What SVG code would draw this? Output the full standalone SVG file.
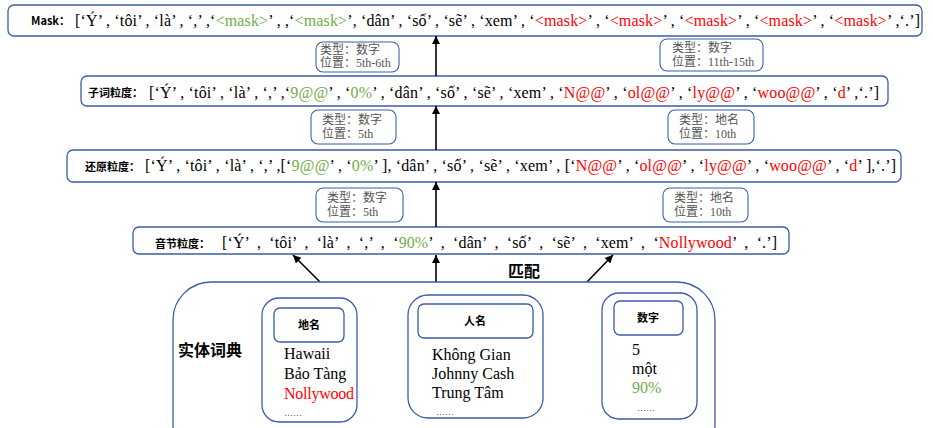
<svg xmlns="http://www.w3.org/2000/svg" width="933" height="428" viewBox="0 0 933 428">
<defs>
<style>
.box{fill:#fff;stroke:#3b5ea6;stroke-width:1.3}
.lbl{fill:#fff;stroke:#3b5ea6;stroke-width:1.1}
.list{font-family:"Liberation Serif","Noto Sans CJK SC",serif;font-size:16px;fill:#000}
.head{font-family:"Noto Sans CJK SC",sans-serif;font-weight:bold;font-size:11px;fill:#000}
.note{font-family:"Liberation Serif","Noto Sans CJK SC",serif;font-size:12px;fill:#555}
.item{font-family:"Liberation Serif",serif;font-size:16px;fill:#000}
.dots{font-family:"Liberation Serif",serif;font-size:9px;fill:#000}
.big{font-family:"Noto Sans CJK SC",sans-serif;font-weight:bold;font-size:16px;fill:#000}
.g{fill:#70ad47}
.r{fill:#ff0000}
.conn{stroke:#000;stroke-width:1.6;fill:none}
</style>
<marker id="ah" viewBox="0 0 10 10" refX="10" refY="5" markerUnits="userSpaceOnUse" markerWidth="9" markerHeight="8" orient="auto">
<path d="M0,0 L10,5 L0,10 z" fill="#000"/>
</marker>
</defs>
<rect width="933" height="428" fill="#fff"/>

<g id="mask">
<rect class="box" x="8" y="5" width="914" height="31" rx="6"/>
<text class="head" x="31" y="25" font-size="10.5">Mask：</text>
<text class="list" x="75" y="26" textLength="845">[‘Ý’ , ‘tôi’ , ‘là’ , ‘,’ ,‘<tspan class="g">&lt;mask&gt;</tspan>’ , ,‘<tspan class="g">&lt;mask&gt;</tspan>’, ‘dân’ , ‘số’ , ‘sẽ’ , ‘xem’ , ‘<tspan class="r">&lt;mask&gt;</tspan>’ , ‘<tspan class="r">&lt;mask&gt;</tspan>’ , ‘<tspan class="r">&lt;mask&gt;</tspan>’ , ‘<tspan class="r">&lt;mask&gt;</tspan>’ , ‘<tspan class="r">&lt;mask&gt;</tspan>’ ,‘.’]</text>
</g>

<g id="subword">
<rect class="box" x="81" y="76" width="807" height="30" rx="6"/>
<text class="head" x="88" y="97">子词粒度：</text>
<text class="list" x="149" y="98" textLength="730">[‘Ý’ , ‘tôi’ , ‘là’ , ‘,’ ,‘<tspan class="g">9@@</tspan>’ , ‘<tspan class="g">0%</tspan>’ , ‘dân’ , ‘số’ , ‘sẽ’ , ‘xem’ , ‘<tspan class="r">N@@</tspan>’ , ‘<tspan class="r">ol@@</tspan>’ , ‘<tspan class="r">ly@@</tspan>’ , ‘<tspan class="r">woo@@</tspan>’ , ‘<tspan class="r">d</tspan>’ ,‘.’]</text>
</g>

<g id="restore">
<rect class="box" x="67" y="150" width="834" height="32" rx="6"/>
<text class="head" x="85" y="171">还原粒度：</text>
<text class="list" x="145" y="171" textLength="751">[‘Ý’ , ‘tôi’ , ‘là’ , ‘,’ ,[‘<tspan class="g">9@@</tspan>’ , ‘<tspan class="g">0%</tspan>’ ], ‘dân’ , ‘số’ , ‘sẽ’ , ‘xem’ , [‘<tspan class="r">N@@</tspan>’ , ‘<tspan class="r">ol@@</tspan>’ , ‘<tspan class="r">ly@@</tspan>’ , ‘<tspan class="r">woo@@</tspan>’ , ‘<tspan class="r">d</tspan>’ ],‘.’]</text>
</g>

<g id="syllable">
<rect class="box" x="133" y="227" width="656" height="27" rx="6"/>
<text class="head" x="155" y="248">音节粒度：</text>
<text class="list" x="222" y="248" textLength="555" xml:space="preserve" style="white-space:pre">[‘Ý’  ,  ‘tôi’  ,  ‘là’  ,  ‘,’  ,  ‘<tspan class="g">90%</tspan>’  ,  ‘dân’  ,  ‘số’  ,  ‘sẽ’  ,  ‘xem’  ,  ‘<tspan class="r">Nollywood</tspan>’  ,  ‘.’]</text>
</g>

<g id="note1">
<rect class="lbl" x="316" y="42" width="83" height="30" rx="7"/>
<text class="note" x="320" y="54">类型：数字</text>
<text class="note" x="320" y="67">位置：5th-6th</text>
</g>
<g id="note2">
<rect class="lbl" x="660" y="39" width="103" height="32" rx="7"/>
<text class="note" x="672" y="52">类型：数字</text>
<text class="note" x="672" y="66">位置：11th-15th</text>
</g>
<g id="note3">
<rect class="lbl" x="311" y="110" width="85" height="34" rx="7"/>
<text class="note" x="322" y="124">类型：数字</text>
<text class="note" x="322" y="138">位置：5th</text>
</g>
<g id="note4">
<rect class="lbl" x="668" y="110" width="86" height="34" rx="7"/>
<text class="note" x="679" y="124">类型：地名</text>
<text class="note" x="679" y="138">位置：10th</text>
</g>
<g id="note5">
<rect class="lbl" x="316" y="188" width="87" height="34" rx="7"/>
<text class="note" x="327" y="202">类型：数字</text>
<text class="note" x="327" y="216">位置：5th</text>
</g>
<g id="note6">
<rect class="lbl" x="663" y="188" width="85" height="34" rx="7"/>
<text class="note" x="674" y="202">类型：地名</text>
<text class="note" x="674" y="216">位置：10th</text>
</g>

<g id="connectors">
<line class="conn" x1="436" y1="76" x2="436" y2="36" marker-end="url(#ah)"/>
<line class="conn" x1="436" y1="150" x2="436" y2="106" marker-end="url(#ah)"/>
<line class="conn" x1="436" y1="227" x2="436" y2="182" marker-end="url(#ah)"/>
<line class="conn" x1="320" y1="282" x2="293" y2="255" marker-end="url(#ah)"/>
<line class="conn" x1="436" y1="282" x2="436" y2="255" marker-end="url(#ah)"/>
<line class="conn" x1="587" y1="282" x2="613" y2="255" marker-end="url(#ah)"/>
</g>

<g id="match-label">
<text class="big" x="508" y="277" font-size="17">匹配</text>
</g>

<g id="dictionary">
<rect class="box" x="173" y="282" width="542" height="180" rx="38"/>
<text class="big" x="178" y="356">实体词典</text>
</g>

<g id="place">
<rect class="box" x="262" y="298" width="95" height="124" rx="17"/>
<rect class="box" x="274" y="308" width="70" height="34" rx="6"/>
<text class="head" x="309" y="329" text-anchor="middle" font-size="12">地名</text>
<text class="item" x="284" y="359">Hawaii</text>
<text class="item" x="284" y="379">Bảo Tàng</text>
<text class="item r" x="284" y="399" textLength="70">Nollywood</text>
<text class="dots" x="284" y="416">……</text>
</g>

<g id="person">
<rect class="box" x="408" y="295" width="135" height="123" rx="20"/>
<rect class="box" x="418" y="304" width="115" height="34" rx="6"/>
<text class="head" x="475" y="325" text-anchor="middle" font-size="12">人名</text>
<text class="item" x="432" y="360">Không Gian</text>
<text class="item" x="432" y="379">Johnny Cash</text>
<text class="item" x="432" y="398">Trung Tâm</text>
<text class="dots" x="436" y="415">……</text>
</g>

<g id="number">
<rect class="box" x="602" y="293" width="95" height="126" rx="17"/>
<rect class="box" x="614" y="301" width="69" height="34" rx="6"/>
<text class="head" x="648" y="322" text-anchor="middle" font-size="12">数字</text>
<text class="item" x="632" y="355">5</text>
<text class="item" x="632" y="374">một</text>
<text class="item g" x="632" y="393">90%</text>
<text class="dots" x="637" y="411">……</text>
</g>
</svg>
